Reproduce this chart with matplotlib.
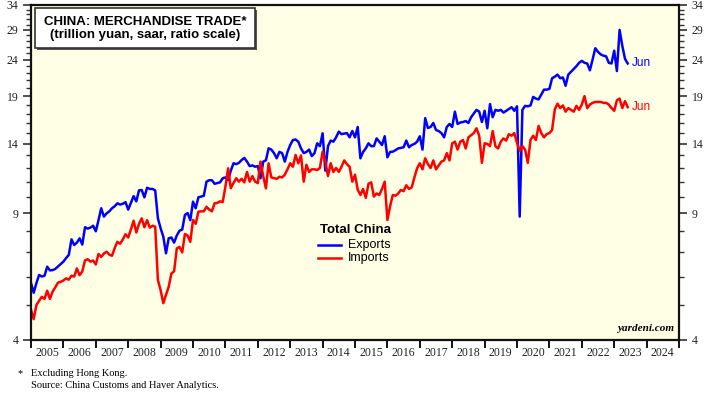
import numpy as np
import matplotlib
matplotlib.use("Agg")
import matplotlib.pyplot as plt
from matplotlib.patches import Rectangle
from matplotlib.ticker import FixedLocator, NullFormatter, FixedFormatter

# monthly, Jan 2005 .. Jun 2023, trillion yuan saar
exports = [
    5.76, 5.41, 5.75, 6.06, 6.0, 6.03, 6.39, 6.24, 6.25, 6.3,
    6.4, 6.5, 6.6, 6.75, 6.89, 7.61, 7.34, 7.45, 7.66, 7.36,
    8.22, 8.15, 8.2, 8.3, 8.01, 8.6, 9.28, 8.8, 8.98, 9.1,
    9.28, 9.4, 9.58, 9.5, 9.55, 9.65, 9.2, 9.6, 10.03, 9.7,
    10.4, 10.43, 9.95, 10.58, 10.5, 10.5, 10.4, 8.7, 8.17, 7.74,
    6.96, 7.66, 7.7, 7.45, 7.8, 8.04, 8.1, 8.89, 9.0, 8.6,
    9.68, 9.28, 9.95, 10.0, 10.05, 11.0, 11.1, 11.1, 10.85, 10.9,
    10.95, 11.24, 11.3, 11.1, 11.8, 12.37, 12.3, 12.4, 12.63, 12.8,
    12.5, 12.15, 12.2, 12.1, 12.15, 11.24, 12.5, 12.6, 13.61, 13.5,
    13.2, 12.77, 13.3, 13.2, 12.5, 13.3, 13.9, 14.35, 14.4, 14.2,
    13.6, 13.2, 13.3, 13.5, 12.95, 13.2, 14.05, 13.8, 14.98, 11.8,
    13.8, 14.3, 14.2, 14.6, 15.14, 14.9, 14.95, 15.0, 14.6, 15.2,
    14.6, 15.6, 12.77, 13.3, 13.61, 14.05, 13.8, 13.8, 14.5, 14.2,
    13.9, 14.7, 12.85, 13.3, 13.32, 13.45, 13.6, 13.65, 13.7, 14.3,
    13.7, 13.9, 14.0, 14.2, 14.7, 13.5, 16.5, 15.5, 15.6, 16.0,
    15.3, 15.2, 15.0, 14.6, 15.6, 15.9, 15.6, 17.2, 15.9, 16.05,
    16.1, 16.2, 16.0, 16.6, 17.0, 17.4, 17.2, 16.1, 17.3, 15.47,
    18.06, 16.6, 17.4, 17.3, 17.4, 17.1, 17.3, 17.5, 17.7, 17.3,
    17.8, 8.8, 17.4, 17.85, 17.8, 17.9, 18.9, 18.7, 18.6, 19.2,
    19.8, 19.8, 19.9, 21.3, 21.5, 21.8, 21.3, 21.4, 20.3, 21.8,
    22.2, 22.6, 23.0, 23.5, 23.8, 23.5, 23.4, 22.4, 24.0, 25.8,
    25.2, 24.8, 24.6, 24.5, 23.5, 23.4, 25.4, 22.3, 29.0, 26.2,
    24.1, 23.4,
]

imports = [
    4.85, 4.57, 5.0, 5.14, 5.27, 5.2, 5.48, 5.2, 5.45, 5.6,
    5.77, 5.8, 5.85, 5.93, 5.88, 6.03, 6.0, 6.32, 6.05, 6.2,
    6.65, 6.7, 6.6, 6.65, 6.48, 6.93, 6.8, 6.95, 7.03, 6.9,
    6.85, 7.2, 7.49, 7.4, 7.6, 7.86, 7.7, 8.1, 8.57, 7.95,
    8.4, 8.7, 8.22, 8.6, 8.2, 8.3, 8.25, 5.87, 5.5, 5.06,
    5.33, 5.62, 6.12, 6.2, 7.18, 7.25, 7.0, 7.87, 7.8, 7.49,
    8.61, 8.4, 9.08, 9.1, 9.1, 9.37, 9.2, 9.1, 9.58, 9.6,
    9.7, 9.65, 10.65, 11.98, 10.55, 10.9, 11.24, 11.0, 11.2, 10.95,
    11.7, 11.0, 11.4, 11.0, 10.9, 12.5, 11.4, 10.54, 12.37, 11.3,
    11.25, 11.2, 11.35, 11.3, 11.5, 11.9, 12.37, 12.1, 13.04, 12.37,
    13.0, 11.0, 12.25, 11.7, 11.9, 11.9, 11.85, 12.0, 13.32, 12.5,
    11.4, 12.37, 11.7, 12.0, 11.7, 12.1, 12.6, 12.3, 12.1, 11.0,
    11.5, 10.45, 10.1, 10.5, 9.92, 10.85, 10.95, 10.0, 10.2, 10.1,
    10.5, 11.0, 8.61, 9.4, 10.1, 10.05, 10.2, 10.43, 10.35, 10.75,
    10.5, 10.6, 11.3, 11.98, 12.37, 11.9, 12.77, 12.3, 12.0, 12.6,
    11.9, 12.2, 12.5, 12.6, 13.2, 12.6, 14.05, 14.2, 13.5, 14.2,
    14.35, 13.6, 14.6, 14.8, 15.0, 15.47, 14.75, 12.4, 14.05, 14.0,
    13.8, 15.2, 13.8, 13.6, 14.2, 14.5, 14.3, 14.9, 14.75, 15.0,
    14.1, 13.4, 13.8, 13.5, 12.4, 14.35, 14.75, 14.35, 15.7, 15.0,
    14.6, 14.9, 15.0, 15.3, 17.46, 18.1, 17.6, 17.9, 17.2, 17.6,
    17.4, 17.2, 17.85, 17.4, 18.0, 19.0, 17.6, 18.0, 18.2, 18.3,
    18.3, 18.3, 18.2, 18.2, 18.0, 17.6, 17.3, 18.5, 18.7, 17.6,
    18.4, 17.7,
]

years = list(range(2005, 2025))
y_major = [4, 9, 14, 19, 24, 29, 34]
y_minor = [v for v in range(4, 35) if v not in y_major]

dates = 2005 + np.arange(len(exports)) / 12.0

serif = ["Liberation Serif", "DejaVu Serif"]
sans = ["Liberation Sans", "DejaVu Sans"]

fig = plt.figure(figsize=(7.18, 3.95), dpi=100)
ax = fig.add_axes([31 / 718, 1 - 340 / 395, 648 / 718, 335 / 395])
ax.set_facecolor("#FFFFE6")

ax.plot(dates, exports, color="#0000FF", lw=1.8, solid_joinstyle="round")
ax.plot(dates, imports, color="#FF0000", lw=1.8, solid_joinstyle="round")

ax.set_yscale("log")
ax.set_ylim(4, 34)
ax.set_xlim(2005, 2025)

ax.yaxis.set_major_locator(FixedLocator(y_major))
ax.yaxis.set_major_formatter(FixedFormatter([str(v) for v in y_major]))
ax.yaxis.set_minor_locator(FixedLocator(y_minor))
ax.yaxis.set_minor_formatter(NullFormatter())
ax.tick_params(axis="y", which="major", direction="out", length=6, width=1.2,
               color="#333333", labelsize=8.5, labelcolor="#222222", pad=3,
               left=True, right=True, labelleft=True, labelright=True)
ax.tick_params(axis="y", which="minor", direction="out", length=3.5, width=1,
               color="#333333", left=True, right=True)

# year boundaries as ticks, labels centered within each year
ax.xaxis.set_major_locator(FixedLocator(years + [2025]))
ax.xaxis.set_major_formatter(NullFormatter())
ax.xaxis.set_minor_locator(FixedLocator([y + 0.5 for y in years]))
ax.xaxis.set_minor_formatter(FixedFormatter([str(y) for y in years]))
ax.tick_params(axis="x", which="major", direction="out", length=6, width=1.4,
               color="#111111")
ax.tick_params(axis="x", which="minor", length=0, labelsize=8.5,
               labelcolor="#222222", pad=5)

for lab in ax.get_xticklabels(minor=True) + ax.get_yticklabels():
    lab.set_family(serif)
for t in ax.yaxis.get_major_ticks():
    t.label1.set_family(serif)
    t.label2.set_family(serif)

for s in ax.spines.values():
    s.set_linewidth(1.6)
    s.set_color("#111111")

# title box with shadow
ax.add_patch(Rectangle((6 / 648, 290 / 335), 220 / 648, 40 / 335,
                       transform=ax.transAxes, facecolor="#555555",
                       edgecolor="none", zorder=4))
ax.add_patch(Rectangle((4 / 648, 292 / 335), 220 / 648, 40 / 335,
                       transform=ax.transAxes, facecolor="white",
                       edgecolor="#333333", lw=1.2, zorder=5))
ax.text(114 / 648, 318 / 335, "CHINA: MERCHANDISE TRADE*", transform=ax.transAxes,
        ha="center", va="center", fontsize=9.5, fontweight="bold", family=sans,
        zorder=6)
ax.text(114 / 648, 305 / 335, "(trillion yuan, saar, ratio scale)",
        transform=ax.transAxes, ha="center", va="center", fontsize=9.5,
        fontweight="bold", family=sans, zorder=6)

# legend
ax.text(289 / 648, 110 / 335, "Total China", transform=ax.transAxes,
        ha="left", va="center", fontsize=9.5, fontweight="bold", family=sans)
ax.plot([287 / 648, 310 / 648], [95 / 335, 95 / 335], transform=ax.transAxes,
        color="#0000FF", lw=1.8)
ax.plot([287 / 648, 310 / 648], [82 / 335, 82 / 335], transform=ax.transAxes,
        color="#FF0000", lw=1.8)
ax.text(317 / 648, 95 / 335, "Exports", transform=ax.transAxes,
        ha="left", va="center", fontsize=9, family=sans)
ax.text(317 / 648, 82 / 335, "Imports", transform=ax.transAxes,
        ha="left", va="center", fontsize=9, family=sans)

# end labels
ax.annotate("Jun", (dates[-1], exports[-1]), xytext=(3, 0),
            textcoords="offset points", color="#0000FF", fontsize=8.5,
            family=sans, va="center", ha="left")
ax.annotate("Jun", (dates[-1], imports[-1]), xytext=(3, 0),
            textcoords="offset points", color="#FF0000", fontsize=8.5,
            family=sans, va="center", ha="left")

ax.text(0.992, 0.022, "yardeni.com", transform=ax.transAxes, ha="right",
        va="bottom", fontsize=8, fontweight="bold", style="italic",
        family=serif)

# footnotes
fig.text(18 / 718, 1 - 374 / 395, "*", fontsize=7.5, family=serif,
         va="center", ha="left")
fig.text(31 / 718, 1 - 374 / 395, "Excluding Hong Kong.", fontsize=7.5,
         family=serif, va="center", ha="left")
fig.text(31 / 718, 1 - 385 / 395, "Source: China Customs and Haver Analytics.",
         fontsize=7.5, family=serif, va="center", ha="left")

fig.savefig("out.png", dpi=100, facecolor="white")
